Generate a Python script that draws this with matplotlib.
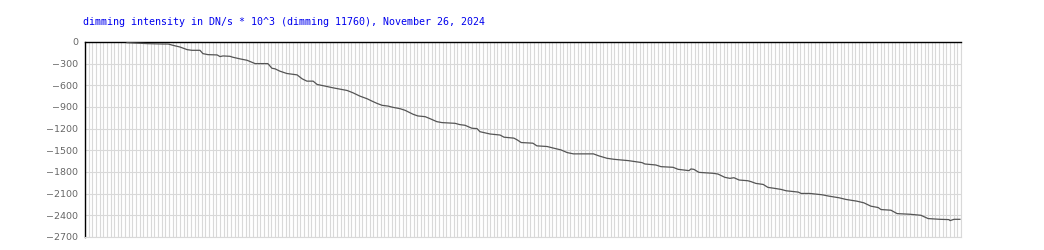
import matplotlib
matplotlib.use("Agg")
import matplotlib.pyplot as plt
from matplotlib.ticker import MultipleLocator, NullFormatter

# time of day in hours, dimming intensity in DN/s * 10^3
hours = [1.15, 1.73, 2.14, 2.28, 2.41, 2.60, 2.80, 2.93, 3.15, 3.23, 3.37, 3.62,
         3.70, 3.78, 3.97, 4.05, 4.25, 4.44, 4.66, 5.01, 5.12, 5.21, 5.34, 5.53,
         5.81, 5.95, 6.08, 6.25, 6.36, 6.58, 6.79, 7.18, 7.34, 7.53, 7.73, 7.86,
         8.00, 8.14, 8.30, 8.44, 8.63, 8.77, 8.99, 9.12, 9.32, 9.45, 9.64, 9.78,
         10.14, 10.27, 10.41, 10.60, 10.74, 10.82, 11.10, 11.37,
         11.48, 11.75, 11.84, 11.95, 12.27, 12.38, 12.66, 12.85, 13.04, 13.21,
         13.38, 13.93, 14.08, 14.30, 14.49, 14.68, 14.88, 15.07, 15.26, 15.34,
         15.64, 15.78, 16.11, 16.25, 16.55, 16.60, 16.68, 16.74, 16.82, 17.21,
         17.34, 17.53, 17.67, 17.78, 17.92, 18.16, 18.25, 18.38, 18.58, 18.71,
         18.90, 19.07, 19.21, 19.54, 19.62, 19.86, 20.19, 20.38, 20.66, 20.85,
         21.15, 21.34, 21.53, 21.73, 21.81, 22.08, 22.25, 22.60, 22.90, 23.10,
         23.42, 23.67, 23.70, 23.81, 23.97]
values = [-9, -23, -28, -28, -46, -69, -106, -115, -115, -161, -175, -179,
          -202, -193, -198, -211, -234, -253, -299, -299, -363, -372, -404, -436,
          -455, -510, -542, -542, -588, -611, -634, -671, -703, -749, -786, -818,
          -850, -877, -887, -905, -923, -946, -1001, -1024, -1034, -1061, -1103, -1116,
          -1126, -1144, -1153, -1194, -1199, -1242, -1274, -1288,
          -1318, -1331, -1355, -1392, -1401, -1438, -1447, -1471, -1494, -1531,
          -1549, -1549, -1577, -1610, -1624, -1633, -1642, -1656, -1670, -1689,
          -1703, -1726, -1735, -1763, -1781, -1758, -1763, -1781, -1805, -1818,
          -1828, -1874, -1888, -1879, -1911, -1921, -1934, -1958, -1972, -2013,
          -2027, -2041, -2060, -2078, -2097, -2097, -2115, -2134, -2157, -2180,
          -2204, -2227, -2273, -2292, -2320, -2329, -2376, -2385, -2399, -2445,
          -2455, -2459, -2473, -2455, -2455]
y_ticks = [0, -300, -600, -900, -1200, -1500, -1800, -2100, -2400, -2700]
title = "dimming intensity in DN/s * 10^3 (dimming 11760), November 26, 2024"

GRID = "#d9d9d9"

fig = plt.figure(figsize=(10.44, 2.5), dpi=100, facecolor="white")
ax = fig.add_axes([85 / 1044, 1 - 237 / 250, 876 / 1044, 195 / 250])

ax.plot(hours, values, color="#555555", lw=0.9, zorder=3)

ax.set_xlim(0, 24)
ax.set_ylim(-2700, 0)
ax.set_yticks(y_ticks)
ax.xaxis.set_major_locator(MultipleLocator(0.1))
ax.xaxis.set_major_formatter(NullFormatter())
ax.grid(True, color=GRID, lw=0.8)
ax.set_axisbelow(True)
ax.tick_params(axis="both", length=0)
ax.tick_params(axis="y", labelsize=6.8, labelcolor="#666666", pad=5)

ax.spines["left"].set_color("black")
ax.spines["left"].set_linewidth(1.0)
ax.spines["top"].set_color("black")
ax.spines["top"].set_linewidth(1.0)
for s in ("bottom", "right"):
    ax.spines[s].set_color(GRID)
    ax.spines[s].set_linewidth(0.8)

fig.text(83 / 1044, 1 - 22 / 250, title, color="#0000ee", fontsize=7.2,
         family="DejaVu Sans Mono", va="center", ha="left")

fig.savefig("out.png", dpi=100, facecolor="white")
